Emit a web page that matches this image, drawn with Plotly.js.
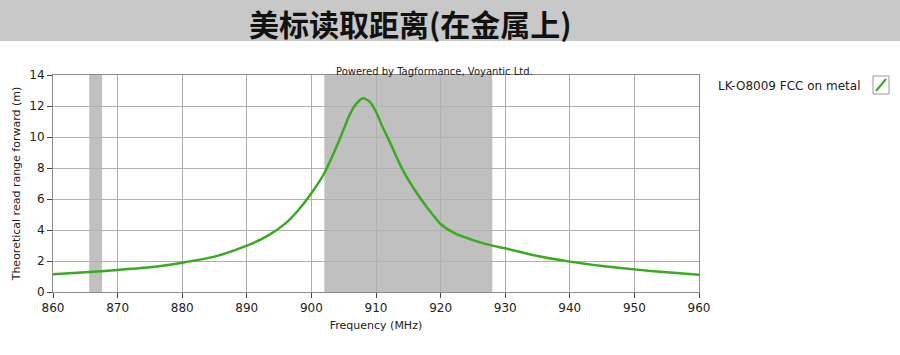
<!DOCTYPE html>
<html>
<head>
<meta charset="utf-8">
<script src="https://cdn.plot.ly/plotly-3.0.1.min.js"></script>
<style>html,body{margin:0;padding:0;background:#fff;}#chart{width:900px;height:355px;}</style>
</head>
<body>
<div id="chart"></div>
<script>
const freqMHz = [860, 865, 870, 875, 880, 885, 890, 893, 896, 898, 900, 902, 904, 906, 907, 908, 909, 910, 911, 912, 914, 916, 918, 920, 922, 925, 928, 930, 935, 940, 945, 950, 955, 960];
const readRange = [1.15, 1.27, 1.42, 1.59, 1.89, 2.28, 2.99, 3.57, 4.43, 5.29, 6.37, 7.66, 9.48, 11.5, 12.17, 12.5, 12.28, 11.63, 10.66, 9.8, 7.98, 6.58, 5.4, 4.39, 3.83, 3.35, 2.99, 2.82, 2.32, 1.96, 1.68, 1.46, 1.27, 1.12];
const shadedBands = [[865.6, 867.6], [902, 928]];
const seriesName = "LK-O8009 FCC on metal";
const chartTitle = "美标读取距离(在金属上)";
const xTicks = [860, 870, 880, 890, 900, 910, 920, 930, 940, 950, 960];
const yTicks = [0, 2, 4, 6, 8, 10, 12, 14];

const L = 53, R = 699, T = 75, B = 292, W = 900, H = 355;
const px = v => (v - L) / (R - L);
const py = v => (B - v) / (B - T);

const shapes = [
  {type:'rect', xref:'paper', yref:'paper', x0:px(0), x1:px(W), y0:py(41), y1:py(0), fillcolor:'#c8c8c8', line:{width:0}, layer:'below'}
];
shadedBands.forEach(b => shapes.push({type:'rect', xref:'x', yref:'paper', x0:b[0], x1:b[1], y0:0, y1:1, fillcolor:'#c0c0c0', line:{width:0}, layer:'below'}));
shapes.push({type:'rect', xref:'paper', yref:'paper', x0:px(873), x1:px(889), y0:py(94), y1:py(76), fillcolor:'#ffffff', line:{color:'#9a9a9a', width:1}});
shapes.push({type:'line', xref:'paper', yref:'paper', x0:px(876), x1:px(886), y0:py(91), y1:py(79), line:{color:'#3aaa1f', width:2}});

const font = "Tahoma, 'DejaVu Sans', sans-serif";
const data = [{
  x: freqMHz, y: readRange, type:'scatter', mode:'lines', name: seriesName,
  line:{color:'#3aaa1f', width:2.5, shape:'spline', smoothing:0.6}, showlegend:false, hoverinfo:'skip'
}];
const layout = {
  width: W, height: H,
  margin:{l:L, r:W-R, t:T, b:H-B},
  paper_bgcolor:'#ffffff', plot_bgcolor:'#ffffff',
  showlegend:false,
  font:{family:font, color:'#222', size:12},
  xaxis:{range:[860,960], tickvals:xTicks, ticktext:xTicks.map(String), showgrid:true, gridcolor:'#b0b0b0', gridwidth:1,
    zeroline:false, showline:true, mirror:true, linecolor:'#8a8a8a', linewidth:1, ticks:'outside', ticklen:5, tickcolor:'#444',
    tickfont:{family:font, size:12, color:'#222'},
    title:{text:'Frequency (MHz)', font:{family:font, size:11, color:'#222'}, standoff:6}},
  yaxis:{range:[0,14], tickvals:yTicks, ticktext:yTicks.map(String), showgrid:true, gridcolor:'#b0b0b0', gridwidth:1,
    zeroline:false, showline:true, mirror:true, linecolor:'#8a8a8a', linewidth:1, ticks:'outside', ticklen:5, tickcolor:'#444',
    tickfont:{family:font, size:12, color:'#222'},
    title:{text:'Theoretical read range forward (m)', font:{family:font, size:11, color:'#222'}, standoff:6}},
  shapes: shapes,
  annotations:[
    {xref:'paper', yref:'paper', x:px(410), y:py(23), text:chartTitle, showarrow:false, xanchor:'center', yanchor:'middle',
     font:{family:"'Noto Sans CJK SC', sans-serif", size:30, color:'#111', weight:'bold'}},
    {xref:'paper', yref:'paper', x:px(434), y:py(71), text:'Powered by Tagformance, Voyantic Ltd.', showarrow:false, xanchor:'center', yanchor:'middle',
     font:{family:font, size:10, color:'#222'}},
    {xref:'paper', yref:'paper', x:px(716), y:py(86), text:seriesName, showarrow:false, xanchor:'left', yanchor:'middle',
     font:{family:font, size:12, color:'#222'}}
  ]
};
Plotly.newPlot('chart', data, layout, {displayModeBar:false, staticPlot:true});
</script>
</body>
</html>
